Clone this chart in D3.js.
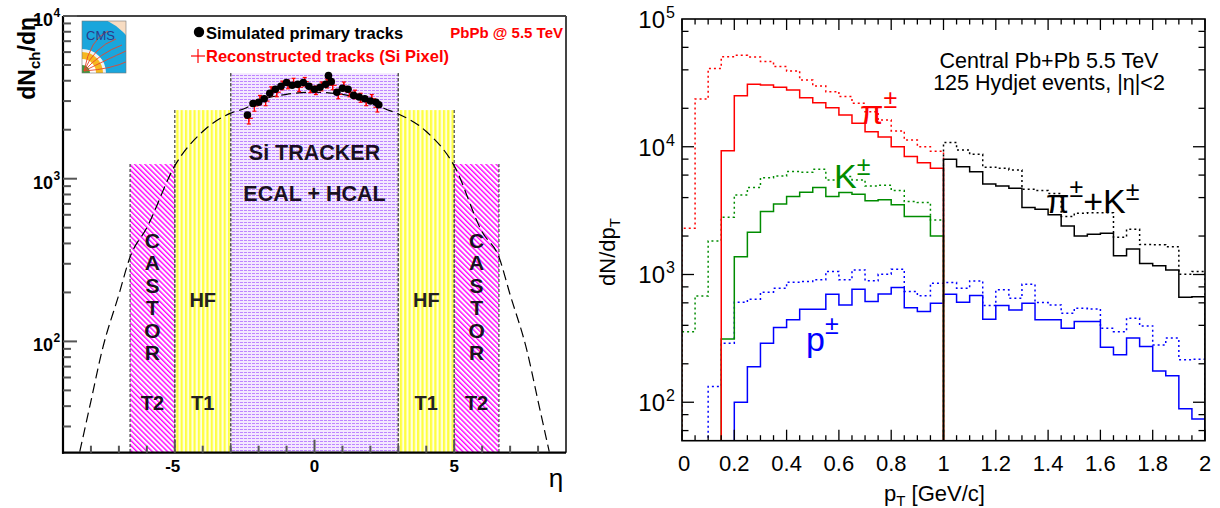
<!DOCTYPE html>
<html>
<head>
<meta charset="utf-8">
<script src="https://cdn.jsdelivr.net/npm/d3@7"></script>
<style>
  body { margin: 0; background: #fff; }
  svg text { font-family: "Liberation Sans", Arial, Helvetica, sans-serif; }
</style>
</head>
<body>
<svg id="chart" width="1220" height="508"></svg>
<script>
// ---------- Datos panel izquierdo (dNch/deta) ----------
const bandNames = ['CASTOR', 'HF', 'SI', 'HF', 'CASTOR'];
const bandLo = [-6.6, -5, -3, 3, 5];
const bandHi = [-5, -3, 3, 5, 6.6];
const bandTop = [1230, 2640, 4450, 2640, 1230];

// curva discontinua
const curveEta = [-8.4, -8, -7.6, -7, -6.6, -6, -5, -4, -3, -2.5, -2, -1, 0, 1, 2, 2.5, 3, 4, 5, 6, 6.6, 7, 7.6, 8, 8.4];
const curveVal = [21, 43, 88, 194, 330, 500, 1200, 1950, 2530, 2700, 3000, 3300, 3400, 3300, 3000, 2700, 2500, 1950, 1200, 470, 330, 194, 88, 43, 21];

// trazas primarias simuladas
const simEta = [-2.4, -2.2, -2.0, -1.8, -1.6, -1.4, -1.2, -1.0, -0.8, -0.6, -0.4, -0.2, 0.0, 0.2, 0.4, 0.5, 0.6, 0.8, 1.0, 1.2, 1.4, 1.6, 1.8, 2.0, 2.2, 2.3];
const simVal = [2460, 2900, 2950, 3100, 3350, 3550, 3700, 3900, 3750, 3800, 3900, 3700, 3550, 3650, 3800, 4300, 3950, 3400, 3600, 3550, 3250, 3180, 3100, 3000, 2950, 2850];

// trazas reconstruidas (Si Pixel)
const recEta = [-2.35, -2.15, -1.95, -1.75, -1.55, -1.35, -1.15, -0.95, -0.75, -0.55, -0.35, -0.15, 0.05, 0.25, 0.45, 0.65, 0.85, 1.05, 1.25, 1.45, 1.65, 1.85, 2.05, 2.25];
const recVal = [2350, 2800, 3050, 3000, 3450, 3400, 3750, 3800, 3900, 3650, 3950, 3600, 3500, 3700, 3850, 3750, 3300, 3700, 3400, 3300, 3150, 3000, 3100, 2750];
const recErr = [180, 200, 200, 190, 220, 210, 230, 230, 240, 220, 240, 220, 210, 230, 240, 230, 200, 230, 210, 200, 200, 190, 190, 180];

// ---------- Datos panel derecho (dN/dpT) ----------
const binW = 0.05;
const piDot = [2300, 23600, 41000, 50700, 52000, 50500, 46400, 42400, 39200, 33300, 29900, 27000, 24700, 21900, 18800, 16200, 13300, 11300, 10000, 9200];
const piSol = [0, 0, 0, 9300, 25100, 30800, 30500, 29200, 27800, 24200, 22100, 20200, 17700, 15300, 13100, 11900, 10000, 8370, 7510, 6790];
const kDot = [357, 680, 1830, 2810, 4200, 4790, 5730, 5910, 6390, 6310, 6670, 5500, 5840, 5500, 4930, 5000, 4540, 3720, 3660, 2670];
const kSol = [0, 0, 0, 313, 1380, 2140, 3110, 3560, 4070, 4400, 4790, 4070, 4380, 4250, 3770, 3840, 3510, 2840, 2840, 2000];
const pDot = [0, 0, 133, 290, 607, 641, 727, 781, 871, 881, 908, 1055, 908, 1086, 892, 1005, 1100, 735, 681, 855,
              865, 781, 891, 571, 759, 651, 839, 603, 578, 498, 545, 538, 380, 357, 455, 396, 281, 318, 215, 217];
const pSol = [0, 0, 0, 0, 100, 190, 290, 385, 442, 535, 535, 702, 578, 767, 614, 705, 791, 548, 513, 596,
              702, 607, 684, 447, 571, 528, 596, 442, 442, 380, 428, 428, 270, 235, 318, 273, 176, 161, 89, 74];
const pkDot = [10800, 9440, 8730, 6910, 6790, 6580, 4650, 4540, 4300, 2840, 3020, 3040, 3040, 1960, 2260, 1720, 1710, 1650, 1005, 1055];
const pkSol = [7980, 6980, 6380, 5110, 4930, 4730, 3340, 3240, 2930, 2400, 2000, 2070, 2100, 1400, 1580, 1220, 1170, 1086, 664, 671];

const xTicksR = [0, 0.2, 0.4, 0.6, 0.8, 1, 1.2, 1.4, 1.6, 1.8, 2];
const xTickLabelsR = ['0', '0.2', '0.4', '0.6', '0.8', '1', '1.2', '1.4', '1.6', '1.8', '2'];

const svg = d3.select('#chart');
const defs = svg.append('defs');

// ======================= PANEL IZQUIERDO =======================
const L = {left: 63, right: 566, top: 16, bottom: 452.7};
const xL = d3.scaleLinear().domain([-9, 9]).range([L.left, L.right]);
const yL = d3.scaleLog().domain([20.7, 1e4]).range([L.bottom, L.top]);

// patrones de relleno
const pPur = defs.append('pattern').attr('id', 'pPur').attr('patternUnits', 'userSpaceOnUse')
  .attr('width', 4).attr('height', 3);
pPur.append('rect').attr('width', 4).attr('height', 3).attr('fill', '#f4e8ff');
pPur.append('rect').attr('width', 3).attr('height', 1).attr('fill', '#bd85ff');

const pYel = defs.append('pattern').attr('id', 'pYel').attr('patternUnits', 'userSpaceOnUse')
  .attr('width', 4.3).attr('height', 4);
pYel.append('rect').attr('width', 4.3).attr('height', 4).attr('fill', '#ffffe0');
pYel.append('rect').attr('width', 2.2).attr('height', 4).attr('fill', '#ffff40');

const pMag = defs.append('pattern').attr('id', 'pMag').attr('patternUnits', 'userSpaceOnUse')
  .attr('width', 3.6).attr('height', 10).attr('patternTransform', 'rotate(-45)');
pMag.append('rect').attr('width', 3.6).attr('height', 10).attr('fill', '#fff');
pMag.append('rect').attr('width', 1.4).attr('height', 10).attr('fill', '#ff00ff');

const bandFill = {CASTOR: 'url(#pMag)', HF: 'url(#pYel)', SI: 'url(#pPur)'};

const gBands = svg.append('g');
gBands.selectAll('rect').data(bandNames).enter().append('rect')
  .attr('x', (d, i) => xL(bandLo[i]))
  .attr('y', (d, i) => yL(bandTop[i]))
  .attr('width', (d, i) => xL(bandHi[i]) - xL(bandLo[i]))
  .attr('height', (d, i) => L.bottom - yL(bandTop[i]))
  .attr('fill', d => bandFill[d]);

// bordes discontinuos de las bandas
bandNames.forEach((d, i) => {
  [bandLo[i], bandHi[i]].forEach(e => {
    const top = Math.abs(e) === 3 ? yL(bandTop[2]) : yL(bandTop[i]);
    gBands.append('line')
      .attr('x1', xL(e)).attr('x2', xL(e))
      .attr('y1', top).attr('y2', L.bottom)
      .attr('stroke', '#555').attr('stroke-width', 1.3).attr('stroke-dasharray', '3,2');
  });
});

// textos de las bandas
const gTxt = svg.append('g').attr('font-weight', 'bold').attr('fill', '#1a1020').attr('text-anchor', 'middle');
gTxt.append('text').attr('x', xL(0)).attr('y', 160).attr('font-size', 21.5).text('Si TRACKER');
gTxt.append('text').attr('x', xL(0)).attr('y', 201).attr('font-size', 21.5).text('ECAL + HCAL');
[-1, 1].forEach(s => {
  const cx = xL(s * 5.8);
  'CASTOR'.split('').forEach((ch, k) => {
    gTxt.append('text').attr('x', cx).attr('y', 248 + k * 22.4).attr('font-size', 21).text(ch);
  });
  gTxt.append('text').attr('x', cx).attr('y', 410).attr('font-size', 20).text('T2');
  const hx = xL(s * 4);
  gTxt.append('text').attr('x', hx).attr('y', 307).attr('font-size', 20).attr('fill', '#222').text('HF');
  gTxt.append('text').attr('x', hx).attr('y', 410).attr('font-size', 20).attr('fill', '#222').text('T1');
});

// curva discontinua
const clipL = defs.append('clipPath').attr('id', 'clipL');
clipL.append('rect').attr('x', L.left).attr('y', L.top).attr('width', L.right - L.left).attr('height', L.bottom - L.top);

const curveLine = d3.line()
  .x((d, i) => xL(curveEta[i]))
  .y((d, i) => yL(d))
  .curve(d3.curveMonotoneX);
svg.append('path').datum(curveVal)
  .attr('clip-path', 'url(#clipL)')
  .attr('d', curveLine)
  .attr('fill', 'none').attr('stroke', '#000').attr('stroke-width', 1.2)
  .attr('stroke-dasharray', '10,5');

// trazas reconstruidas: barras de error y cruces rojas
const gRec = svg.append('g').attr('stroke', '#ff0000').attr('stroke-width', 1.2);
recVal.forEach((v, i) => {
  const x = xL(recEta[i]);
  const y0 = yL(v - recErr[i]), y1 = yL(v + recErr[i]);
  gRec.append('line').attr('x1', x).attr('x2', x).attr('y1', y0).attr('y2', y1);
  gRec.append('line').attr('x1', x - 2).attr('x2', x + 2).attr('y1', y0).attr('y2', y0);
  gRec.append('line').attr('x1', x - 2).attr('x2', x + 2).attr('y1', y1).attr('y2', y1);
});

// trazas simuladas
svg.append('g').selectAll('circle').data(simVal).enter().append('circle')
  .attr('cx', (d, i) => xL(simEta[i]))
  .attr('cy', d => yL(d))
  .attr('r', 3.8)
  .attr('fill', '#000');

recVal.forEach((v, i) => {
  const x = xL(recEta[i]), y = yL(v);
  gRec.append('line').attr('x1', x - 4).attr('x2', x + 4).attr('y1', y).attr('y2', y);
  gRec.append('line').attr('x1', x).attr('x2', x).attr('y1', y - 4).attr('y2', y + 4);
});

// marco
svg.append('line').attr('x1', L.left).attr('x2', L.right).attr('y1', L.top).attr('y2', L.top)
  .attr('stroke', '#444').attr('stroke-width', 2);
svg.append('line').attr('x1', L.right).attr('x2', L.right).attr('y1', L.top).attr('y2', L.bottom)
  .attr('stroke', '#444').attr('stroke-width', 2);
svg.append('line').attr('x1', L.left).attr('x2', L.left).attr('y1', L.top).attr('y2', L.bottom + 1)
  .attr('stroke', '#000').attr('stroke-width', 2.2);
svg.append('line').attr('x1', L.left - 1).attr('x2', L.right).attr('y1', L.bottom).attr('y2', L.bottom)
  .attr('stroke', '#000').attr('stroke-width', 2.2);

// ticks eje y izquierdo
const gTL = svg.append('g').attr('stroke', '#555').attr('stroke-width', 2);
for (let e = 1; e <= 3; e++) {
  for (let m = 1; m <= 9; m++) {
    const v = m * Math.pow(10, e);
    if (v < 20.7 || v > 1e4) continue;
    gTL.append('line').attr('x1', L.left).attr('x2', L.left + (m === 1 ? 14 : 8))
      .attr('y1', yL(v)).attr('y2', yL(v));
  }
}
gTL.append('line').attr('x1', L.left).attr('x2', L.left + 14).attr('y1', yL(1e4)).attr('y2', yL(1e4));
// ticks eje x izquierdo
d3.range(-8, 9).forEach(t => {
  gTL.append('line').attr('x1', xL(t)).attr('x2', xL(t))
    .attr('y1', L.bottom).attr('y2', L.bottom - (t % 5 === 0 ? 13 : 7));
});

// etiquetas del eje y izquierdo
[2, 3, 4].forEach(e => {
  const y = yL(Math.pow(10, e));
  svg.append('text').attr('x', 53).attr('y', y + 10).attr('text-anchor', 'end')
    .attr('font-weight', 'bold').attr('font-size', 18).text('10');
  svg.append('text').attr('x', 53.5).attr('y', y + 1).attr('font-weight', 'bold').attr('font-size', 12).text(e);
});
// etiquetas del eje x izquierdo
[-5, 0, 5].forEach(t => {
  svg.append('text').attr('x', xL(t) + (t < 0 ? -2 : 0)).attr('y', 472).attr('text-anchor', 'middle')
    .attr('font-weight', 'bold').attr('font-size', 17).text(t);
});
svg.append('text').attr('x', 556).attr('y', 487).attr('text-anchor', 'middle')
  .attr('font-size', 26).text('η');

// titulo eje y izquierdo
const yt = svg.append('text').attr('transform', 'translate(35,17) rotate(-90)')
  .attr('text-anchor', 'end').attr('font-weight', 'bold').attr('font-size', 23);
yt.append('tspan').text('dN');
yt.append('tspan').attr('font-size', 15).attr('dy', 5).text('ch');
yt.append('tspan').attr('dy', -5).text('/dη');

// leyenda
svg.append('circle').attr('cx', 199).attr('cy', 32).attr('r', 5.2).attr('fill', '#000');
svg.append('text').attr('x', 206).attr('y', 39).attr('font-weight', 'bold').attr('font-size', 16.5)
  .text('Simulated primary tracks');
svg.append('line').attr('x1', 191).attr('x2', 205).attr('y1', 56).attr('y2', 56).attr('stroke', '#ff0000').attr('stroke-width', 1.2);
svg.append('line').attr('x1', 198).attr('x2', 198).attr('y1', 49).attr('y2', 63).attr('stroke', '#ff0000').attr('stroke-width', 1.2);
svg.append('text').attr('x', 206).attr('y', 62).attr('font-weight', 'bold').attr('font-size', 16.5)
  .attr('fill', '#ff0000').text('Reconstructed tracks (Si Pixel)');
svg.append('text').attr('x', 563).attr('y', 38).attr('text-anchor', 'end').attr('font-weight', 'bold')
  .attr('font-size', 15).attr('fill', '#ff0000').text('PbPb @ 5.5 TeV');

// logo CMS (simplificado)
const logo = svg.append('g').attr('transform', 'translate(82,21)');
defs.append('clipPath').attr('id', 'clipLogo').append('rect').attr('width', 44).attr('height', 52);
const lg = logo.append('g').attr('clip-path', 'url(#clipLogo)');
lg.append('rect').attr('width', 44).attr('height', 52).attr('fill', '#f7dcc2');
lg.append('circle').attr('cx', 0).attr('cy', 52).attr('r', 58).attr('fill', '#1aa6dc');
lg.append('circle').attr('cx', 0).attr('cy', 52).attr('r', 24).attr('fill', '#f2f2f2');
lg.append('circle').attr('cx', 0).attr('cy', 52).attr('r', 21).attr('fill', '#f6b820');
lg.append('circle').attr('cx', 0).attr('cy', 52).attr('r', 14).attr('fill', '#ffffff');
lg.append('circle').attr('cx', 0).attr('cy', 52).attr('r', 8).attr('fill', '#3c9a3c');
[[12, 18, 34], [18, 24, 40], [26, 30, 44], [30, 40, 46], [8, 10, 26]].forEach(c => {
  lg.append('path').attr('d', `M2,50 Q${c[0]},${c[1] + 8} ${c[2]},${c[1]}`)
    .attr('fill', 'none').attr('stroke', '#e8452a').attr('stroke-width', 0.9);
});
lg.append('text').attr('x', 4).attr('y', 19).attr('font-family', '"Liberation Serif", serif')
  .attr('font-size', 13).attr('fill', '#2b3a8a').text('CMS');
logo.append('rect').attr('width', 44).attr('height', 52).attr('fill', 'none').attr('stroke', '#777').attr('stroke-width', 0.6);

// ======================= PANEL DERECHO =======================
const R = {left: 682, right: 1205, top: 19, bottom: 440.7};
const xR = d3.scaleLinear().domain([0, 2]).range([R.left, R.right]);
const yR = d3.scaleLog().domain([50, 1e5]).range([R.bottom, R.top]);

defs.append('clipPath').attr('id', 'clipR').append('rect')
  .attr('x', R.left).attr('y', R.top).attr('width', R.right - R.left).attr('height', R.bottom - R.top);

function histPts(vals, x0) {
  const pts = [[x0, 1]];
  vals.forEach((v, i) => {
    const lo = x0 + i * binW;
    pts.push([lo, v], [lo + binW, v]);
  });
  pts.push([x0 + vals.length * binW, 1]);
  return pts;
}
const yMinR = yR.domain()[0];
const stepLine = d3.line()
  .x(d => xR(d[0]))
  .y(d => yR(Math.max(d[1], yMinR * 0.9)));

const series = [
  {v: pDot, x0: 0, c: '#0000ff', dash: '2,3'},
  {v: pSol, x0: 0, c: '#0000ff', dash: null},
  {v: kDot, x0: 0, c: '#008c00', dash: '2,3'},
  {v: kSol, x0: 0, c: '#008c00', dash: null},
  {v: piDot, x0: 0, c: '#ff0000', dash: '2,3'},
  {v: piSol, x0: 0, c: '#ff0000', dash: null},
  {v: pkDot, x0: 1, c: '#000', dash: '2,3'},
  {v: pkSol, x0: 1, c: '#000', dash: null}
];
const gH = svg.append('g').attr('clip-path', 'url(#clipR)');
series.forEach(s => {
  gH.append('path').datum(histPts(s.v, s.x0))
    .attr('d', stepLine)
    .attr('fill', 'none').attr('stroke', s.c).attr('stroke-width', 1.5)
    .attr('stroke-dasharray', s.dash);
});

// marco y ticks
svg.append('rect').attr('x', R.left).attr('y', R.top).attr('width', R.right - R.left).attr('height', R.bottom - R.top)
  .attr('fill', 'none').attr('stroke', '#000').attr('stroke-width', 1.6);
const gTR = svg.append('g').attr('stroke', '#000').attr('stroke-width', 1.3);
d3.range(0, 41).forEach(k => {
  const x = xR(k * binW);
  const len = k % 4 === 0 ? 11 : 5.5;
  gTR.append('line').attr('x1', x).attr('x2', x).attr('y1', R.bottom).attr('y2', R.bottom - len);
  gTR.append('line').attr('x1', x).attr('x2', x).attr('y1', R.top).attr('y2', R.top + len);
});
for (let e = 1; e <= 4; e++) {
  [1, 2, 4, 6, 8].forEach(m => {
    const v = m * Math.pow(10, e);
    if (v < 50) return;
    const y = yR(v);
    const len = m === 1 ? 12 : 6.5;
    gTR.append('line').attr('x1', R.left).attr('x2', R.left + len).attr('y1', y).attr('y2', y);
    gTR.append('line').attr('x1', R.right).attr('x2', R.right - len).attr('y1', y).attr('y2', y);
  });
}

// etiquetas ejes
xTicksR.forEach((t, i) => {
  svg.append('text').attr('x', xR(t) + (i === 0 ? 2 : 0)).attr('y', 471).attr('text-anchor', 'middle')
    .attr('font-size', 22).text(xTickLabelsR[i]);
});
[2, 3, 4, 5].forEach(e => {
  const y = yR(Math.pow(10, e));
  svg.append('text').attr('x', 665).attr('y', y + 9).attr('text-anchor', 'end').attr('font-size', 24).text('10');
  svg.append('text').attr('x', 666).attr('y', y - 1).attr('font-size', 16).text(e);
});
const xtR = svg.append('text').attr('x', 884).attr('y', 501).attr('font-size', 22);
xtR.append('tspan').text('p');
xtR.append('tspan').attr('font-size', 15).attr('dy', 5).text('T');
xtR.append('tspan').attr('dy', -5).text(' [GeV/c]');
const ytR = svg.append('text').attr('transform', 'translate(615,252) rotate(-90)')
  .attr('text-anchor', 'middle').attr('font-size', 22);
ytR.append('tspan').text('dN/dp');
ytR.append('tspan').attr('font-size', 15).attr('dy', 5).text('T');

// textos
svg.append('text').attr('x', 1049).attr('y', 68).attr('text-anchor', 'middle').attr('font-size', 21.5)
  .text('Central Pb+Pb 5.5 TeV');
svg.append('text').attr('x', 1049).attr('y', 90).attr('text-anchor', 'middle').attr('font-size', 21.5)
  .text('125 Hydjet events, |η|<2');

function label(x, y, parts, color) {
  const t = svg.append('text').attr('x', x).attr('y', y).attr('font-size', 34).attr('fill', color);
  parts.forEach(p => {
    const ts = t.append('tspan').text(p[0]);
    if (p[1]) ts.attr('font-size', 25).attr('dy', p[1]);
  });
}
label(860, 124, [['π'], ['±', -16]], '#ff0000');
label(834, 188, [['K'], ['±', -13]], '#008c00');
const tpk = svg.append('text').attr('x', 1046).attr('y', 213).attr('font-size', 34).attr('fill', '#000');
tpk.append('tspan').text('π');
tpk.append('tspan').attr('font-size', 25).attr('dy', -16).text('±');
tpk.append('tspan').attr('dy', 16).text('+K');
tpk.append('tspan').attr('font-size', 25).attr('dy', -13).text('±');
label(806, 351, [['p'], ['±', -17]], '#0000ff');
</script>
</body>
</html>
